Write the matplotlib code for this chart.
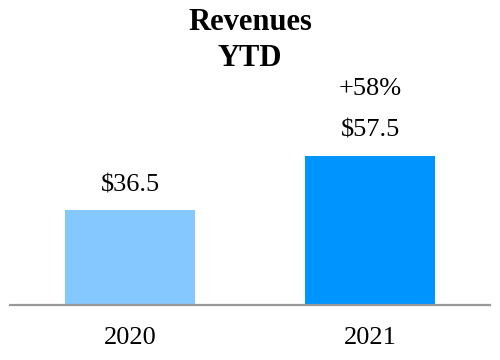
import matplotlib.pyplot as plt

years = ['2020', '2021']
revenues = [36.5, 57.5]
labels = ['$36.5', '$57.5']
growth = '+58%'
colors = ['#85C8FF', '#0094FF']

plt.rcParams['font.family'] = ['Liberation Serif', 'DejaVu Serif']

fig = plt.figure(figsize=(5, 3.6), dpi=100)
ax = fig.add_axes([0.02, 0.1528, 0.96, 0.722])

x = range(len(years))
bars = ax.bar(x, revenues, width=0.54, color=colors)
ax.set_xlim(-0.5, 1.5)
ax.set_ylim(0, 100)

for b, lab in zip(bars, labels):
    ax.annotate(lab, (b.get_x() + b.get_width() / 2, b.get_height()),
                xytext=(0, 18), textcoords='offset points',
                ha='center', va='center', fontsize=19)

last = bars[-1]
ax.annotate(growth, (last.get_x() + last.get_width() / 2, last.get_height()),
            xytext=(0, 48), textcoords='offset points',
            ha='center', va='center', fontsize=19)

for i, yr in enumerate(years):
    ax.annotate(yr, (i, 0), xytext=(0, -24), textcoords='offset points',
                ha='center', va='center', fontsize=19)

for s in ['top', 'right', 'left']:
    ax.spines[s].set_visible(False)
ax.spines['bottom'].set_color('#999999')
ax.spines['bottom'].set_linewidth(1.6)
ax.set_xticks([])
ax.set_yticks([])

fig.text(0.5, 1 - 23 / 360, 'Revenues', ha='center', va='center',
         fontsize=22, fontweight='bold')
fig.text(0.5, 1 - 58 / 360, 'YTD', ha='center', va='center',
         fontsize=22, fontweight='bold')

fig.savefig('out.png', dpi=100)
